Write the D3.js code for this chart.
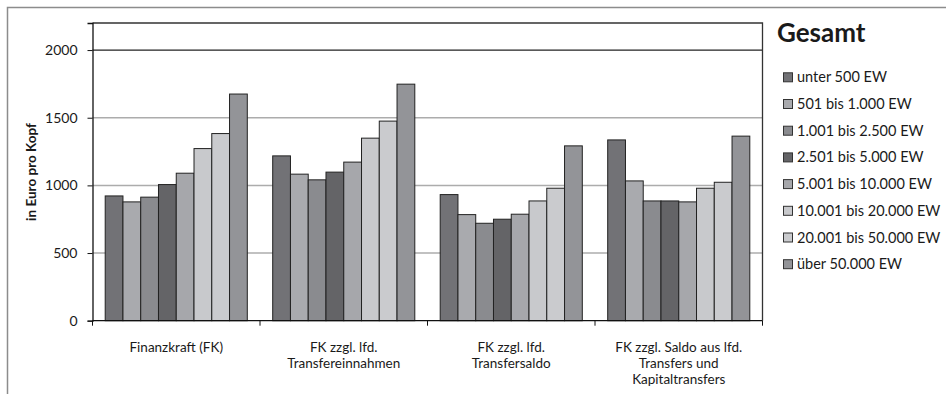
<!DOCTYPE html>
<html>
<head>
<meta charset="utf-8">
<script src="https://cdn.jsdelivr.net/npm/d3@7"></script>
<style>
  html, body { margin: 0; padding: 0; background: #fff; }
  svg { display: block; font-family: Lato, "Open Sans", sans-serif; }
</style>
</head>
<body>
<svg id="chart" width="946" height="394"></svg>
<script>
// Categories (each label split into its display lines)
const categories = [
  ["Finanzkraft (FK)"],
  ["FK zzgl. lfd.", "Transfereinnahmen"],
  ["FK zzgl. lfd.", "Transfersaldo"],
  ["FK zzgl. Saldo aus lfd.", "Transfers und", "Kapitaltransfers"]
];

// Size classes of municipalities (legend order)
const seriesNames = [
  "unter 500 EW",
  "501 bis 1.000 EW",
  "1.001 bis 2.500 EW",
  "2.501 bis 5.000 EW",
  "5.001 bis 10.000 EW",
  "10.001 bis 20.000 EW",
  "20.001 bis 50.000 EW",
  "über 50.000 EW"
];

// Euro per capita, one array per size class, in category order
const unter500      = [922, 1218, 932, 1336];
const bis1000       = [878, 1083, 784, 1033];
const bis2500       = [913, 1041, 720, 885];
const bis5000       = [1006, 1098, 750, 885];
const bis10000      = [1090, 1172, 787, 878];
const bis20000      = [1272, 1349, 885, 979];
const bis50000      = [1383, 1475, 979, 1023];
const ueber50000    = [1675, 1748, 1292, 1364];
const seriesValues = [unter500, bis1000, bis2500, bis5000, bis10000, bis20000, bis50000, ueber50000];

const yTicks = [0, 500, 1000, 1500, 2000];
const seriesColors = ["#727276", "#a9aaae", "#8a8b8f", "#646467", "#a6a7ab", "#c8c9cc", "#cacbce", "#939498"];

const FONT = "Lato, 'Open Sans', sans-serif";
const svg = d3.select("#chart");

// Outer frame
svg.append("rect")
  .attr("x", 7.5).attr("y", 7.5)
  .attr("width", 1000).attr("height", 500)
  .attr("fill", "none").attr("stroke", "#8c8c8c").attr("stroke-width", 1.5);

const plot = { left: 92.5, right: 762.5, top: 23, bottom: 320.7 };

const x0 = d3.scaleBand()
  .domain(d3.range(categories.length))
  .range([plot.left, plot.right])
  .padding(0);

const x1 = d3.scaleBand()
  .domain(d3.range(seriesNames.length))
  .range([12.7, x0.bandwidth() - 12.7])
  .padding(0);

const y = d3.scaleLinear()
  .domain([0, 2200])
  .range([plot.bottom, plot.top]);

// Horizontal gridlines
svg.append("g")
  .selectAll("line")
  .data(yTicks.filter(t => t > 0))
  .join("line")
  .attr("x1", plot.left).attr("x2", plot.right)
  .attr("y1", d => y(d)).attr("y2", d => y(d))
  .attr("stroke", d => d === 2000 ? "#222" : "#acacac")
  .attr("stroke-width", d => d === 2000 ? 1.3 : 1.5);

// Plot area border (top and right)
svg.append("path")
  .attr("d", `M${plot.left},${plot.top}H${plot.right}V${plot.bottom}`)
  .attr("fill", "none").attr("stroke", "#333").attr("stroke-width", 1.3);

// Bars
const groups = svg.append("g")
  .selectAll("g")
  .data(categories.map((c, i) => i))
  .join("g")
  .attr("transform", i => `translate(${x0(i)},0)`);

groups.selectAll("rect")
  .data(i => seriesValues.map((vals, s) => ({ s, v: vals[i] })))
  .join("rect")
  .attr("x", d => x1(d.s))
  .attr("width", x1.bandwidth())
  .attr("y", d => y(d.v))
  .attr("height", d => y(0) - y(d.v))
  .attr("fill", d => seriesColors[d.s])
  .attr("stroke", "#222")
  .attr("stroke-width", 1);

// Y axis
const yAxis = svg.append("g")
  .attr("transform", `translate(${plot.left},0)`)
  .call(d3.axisLeft(y).tickValues(yTicks).tickFormat(d3.format("d")).tickSize(5).tickPadding(10));
yAxis.select(".domain").attr("stroke", "#111").attr("stroke-width", 1.3);
yAxis.selectAll(".tick line").attr("stroke", "#111");
yAxis.selectAll(".tick text")
  .attr("font-family", FONT)
  .attr("font-size", 14).attr("fill", "#1a1a1a");

// X axis with ticks at category boundaries
const boundaries = d3.range(categories.length + 1).map(i => plot.left + i * x0.step());
svg.append("line")
  .attr("x1", plot.left).attr("x2", plot.right)
  .attr("y1", plot.bottom).attr("y2", plot.bottom)
  .attr("stroke", "#111").attr("stroke-width", 1.3);
svg.append("g")
  .selectAll("line")
  .data(boundaries)
  .join("line")
  .attr("x1", d => d).attr("x2", d => d)
  .attr("y1", plot.bottom).attr("y2", plot.bottom + 5)
  .attr("stroke", "#111");

// Category labels, one text element per line
const catLines = categories.flatMap((c, i) => c.map((line, j) => ({ i, j, line })));
svg.append("g")
  .selectAll("text")
  .data(catLines)
  .join("text")
  .attr("text-anchor", "middle")
  .attr("font-size", 13.5)
  .attr("fill", "#1a1a1a")
  .attr("x", d => x0(d.i) + x0.bandwidth() / 2)
  .attr("y", d => 351.5 + d.j * 16.2)
  .text(d => d.line);

// Y axis title
svg.append("text")
  .attr("transform", `translate(36,172) rotate(-90)`)
  .attr("text-anchor", "middle")
  .attr("font-size", 13.5)
  .attr("font-weight", "bold")
  .attr("fill", "#1a1a1a")
  .text("in Euro pro Kopf");

// Legend
svg.append("text")
  .attr("x", 777).attr("y", 42)
  .attr("font-size", 26).attr("font-weight", "bold")
  .attr("fill", "#1a1a1a")
  .text("Gesamt");

const legend = svg.append("g")
  .selectAll("g")
  .data(seriesNames)
  .join("g")
  .attr("transform", (d, i) => `translate(783,${77.3 + i * 26.7})`);

legend.append("rect")
  .attr("x", 0.5).attr("y", -4.5)
  .attr("width", 9).attr("height", 9)
  .attr("fill", (d, i) => seriesColors[i])
  .attr("stroke", "#333").attr("stroke-width", 1);

legend.append("text")
  .attr("x", 14).attr("y", 0).attr("dy", "0.35em")
  .attr("font-size", 14.5).attr("fill", "#1a1a1a")
  .text(d => d);
</script>
</body>
</html>
